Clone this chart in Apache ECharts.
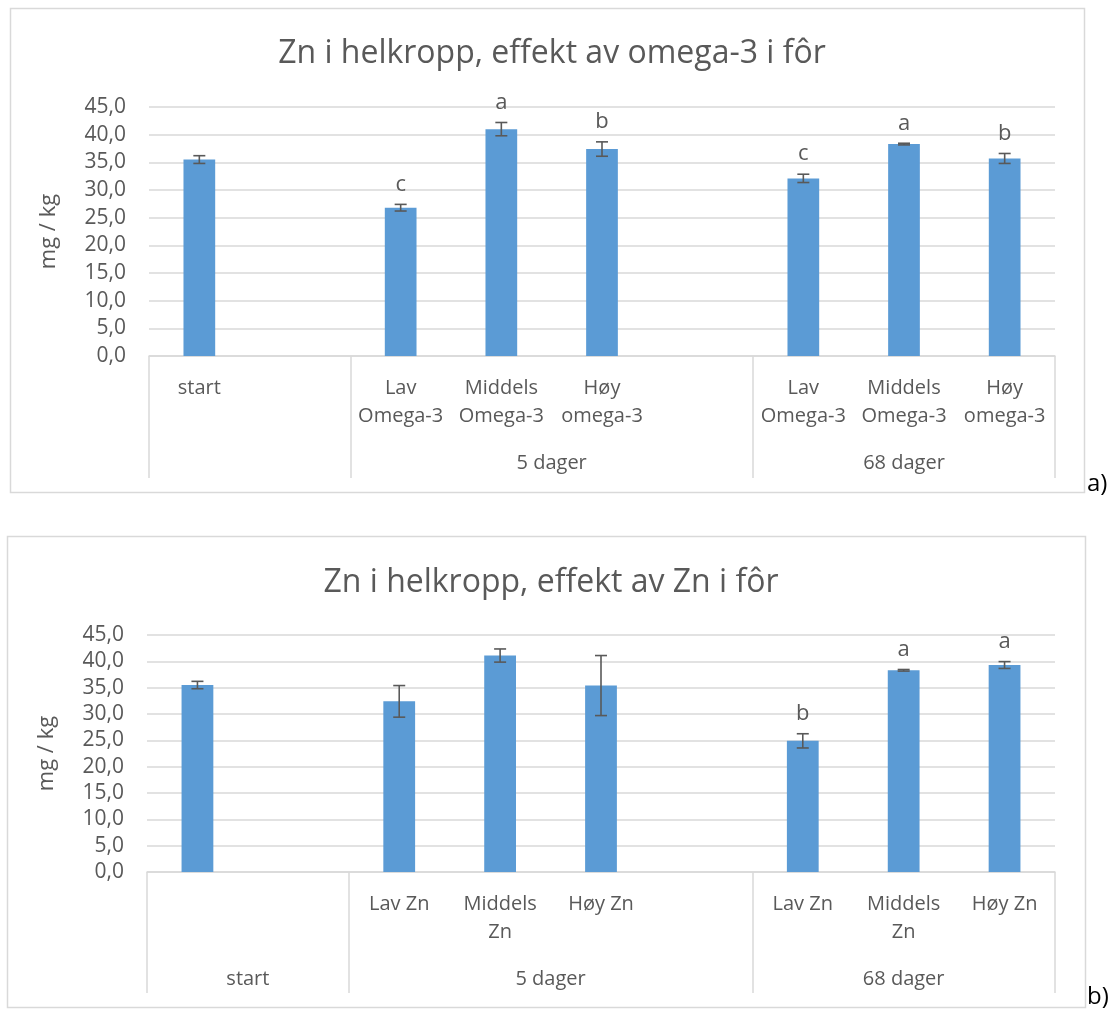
<!DOCTYPE html>
<html>
<head>
<meta charset="utf-8">
<title>Zn i helkropp</title>
<script src="https://cdn.jsdelivr.net/npm/echarts@6/dist/echarts.min.js"></script>
<style>
    html, body { margin: 0; padding: 0; background: #fff; }
    #main { width: 1115px; height: 1012px; }
</style>
</head>
<body>
<div id="main"></div>
<script>
//---数据定义区----------------------------------
var categoriesA = ['start', '', 'Lav\nOmega-3', 'Middels\nOmega-3', 'Høy\nomega-3', '', 'Lav\nOmega-3', 'Middels\nOmega-3', 'Høy\nomega-3'];
var valuesA = [35.5, null, 26.8, 41.0, 37.4, null, 32.1, 38.3, 35.7];
var errorsA = [0.7, null, 0.6, 1.2, 1.3, null, 0.75, 0.15, 0.9];
var lettersA = ['', '', 'c', 'a', 'b', '', 'c', 'a', 'b'];
var groupNamesA = ['5 dager', '68 dager'];
var groupCentersA = [4, 7.5];

var categoriesB = ['', '', 'Lav Zn', 'Middels\nZn', 'Høy Zn', '', 'Lav Zn', 'Middels\nZn', 'Høy Zn'];
var valuesB = [35.5, null, 32.4, 41.1, 35.4, null, 24.9, 38.3, 39.3];
var errorsB = [0.7, null, 3.0, 1.25, 5.7, null, 1.35, 0.15, 0.65];
var lettersB = ['', '', '', '', '', '', 'b', 'a', 'a'];
var groupNamesB = ['start', '5 dager', '68 dager'];
var groupCentersB = [1, 4, 7.5];

var groupEdges = [0, 2, 6, 9];
var yTicks = [0, 5, 10, 15, 20, 25, 30, 35, 40, 45];

//---常量定义区----------------------------------
var FONT = 'Open Sans';
var TEXT = '#595959';
var LINE = '#d9d9d9';
var BAR = '#5B9BD5';

//---工具函数----------------------------------
function errData(values, errors) {
    var out = [];
    for (var i = 0; i < values.length; i++) {
        if (values[i] != null) out.push([i, values[i], errors[i]]);
    }
    return out;
}

function makeErrRender(letters) {
    return function (params, api) {
        var i = api.value(0), v = api.value(1), e = api.value(2);
        var lo = api.coord([i, v - e]);
        var hi = api.coord([i, v + e]);
        var half = 6;
        var st = { stroke: TEXT, lineWidth: 1.6 };
        var kids = [
            { type: 'line', shape: { x1: hi[0], y1: hi[1], x2: lo[0], y2: lo[1] }, style: st },
            { type: 'line', shape: { x1: hi[0] - half, y1: hi[1], x2: hi[0] + half, y2: hi[1] }, style: st },
            { type: 'line', shape: { x1: lo[0] - half, y1: lo[1], x2: lo[0] + half, y2: lo[1] }, style: st }
        ];
        if (letters[i]) {
            kids.push({
                type: 'text',
                style: {
                    text: letters[i], x: hi[0], y: hi[1] - 20,
                    align: 'center', verticalAlign: 'middle',
                    fill: TEXT, font: '22px "' + FONT + '"'
                }
            });
        }
        return { type: 'group', children: kids };
    };
}

function yLabel(v) {
    return v.toFixed(1).replace('.', ',');
}

//---配置生成----------------------------------
function makeYAxis(gridIndex) {
    return {
        type: 'value', gridIndex: gridIndex,
        min: yTicks[0], max: yTicks[yTicks.length - 1], interval: yTicks[1] - yTicks[0],
        name: 'mg / kg', nameLocation: 'middle', nameRotate: 90, nameGap: 89,
        nameTextStyle: { color: TEXT, fontSize: 22, fontFamily: FONT },
        axisLine: { show: false }, axisTick: { show: false },
        axisLabel: { color: TEXT, fontSize: 21, fontFamily: FONT, margin: 23, formatter: yLabel },
        splitLine: { lineStyle: { color: LINE, width: 1.5 } }
    };
}

function makeCatAxis(gridIndex, cats) {
    return {
        type: 'category', gridIndex: gridIndex, data: cats, position: 'bottom',
        axisLine: { lineStyle: { color: LINE, width: 1.5 } },
        axisTick: { show: false },
        axisLabel: { interval: 0, color: TEXT, fontSize: 20, fontFamily: FONT, lineHeight: 28, margin: 18 }
    };
}

function makeGroupAxis(gridIndex, names, centers, tickLen) {
    return {
        type: 'value', gridIndex: gridIndex, position: 'bottom',
        min: groupEdges[0], max: groupEdges[groupEdges.length - 1],
        axisLine: { show: false },
        splitLine: { show: false },
        axisTick: { show: true, customValues: groupEdges, length: tickLen, lineStyle: { color: LINE, width: 1.5 } },
        axisLabel: {
            customValues: centers, color: TEXT, fontSize: 20, fontFamily: FONT, lineHeight: 28, margin: 93,
            formatter: function (v) {
                var k = centers.indexOf(v);
                return k >= 0 ? names[k] : '';
            }
        }
    };
}

var option = {
    backgroundColor: '#fff',
    animation: false,
    title: [
        { text: 'Zn i helkropp, effekt av omega-3 i fôr', left: 547, top: 33, textAlign: 'center',
          textStyle: { color: TEXT, fontSize: 32, fontWeight: 'normal', fontFamily: FONT } },
        { text: 'Zn i helkropp, effekt av Zn i fôr', left: 546, top: 562, textAlign: 'center',
          textStyle: { color: TEXT, fontSize: 32, fontWeight: 'normal', fontFamily: FONT } }
    ],
    graphic: [
        { type: 'rect', shape: { x: 10.5, y: 8.5, width: 1074, height: 484 }, style: { fill: null, stroke: LINE, lineWidth: 1.5 } },
        { type: 'rect', shape: { x: 7.5, y: 536.5, width: 1078, height: 471 }, style: { fill: null, stroke: LINE, lineWidth: 1.5 } },
        { type: 'text', left: 1087, top: 472, style: { text: 'a)', fill: '#000', font: '24px "' + FONT + '"' } },
        { type: 'text', left: 1087, top: 985, style: { text: 'b)', fill: '#000', font: '24px "' + FONT + '"' } }
    ],
    grid: [
        { left: 149, top: 107, width: 906, height: 249 },
        { left: 147, top: 635, width: 908, height: 237 }
    ],
    xAxis: [
        makeCatAxis(0, categoriesA),
        makeGroupAxis(0, groupNamesA, groupCentersA, 122),
        makeCatAxis(1, categoriesB),
        makeGroupAxis(1, groupNamesB, groupCentersB, 121)
    ],
    yAxis: [makeYAxis(0), makeYAxis(1)],
    series: [
        { type: 'bar', xAxisIndex: 0, yAxisIndex: 0, data: valuesA, barWidth: '31.5%', itemStyle: { color: BAR } },
        { type: 'custom', xAxisIndex: 0, yAxisIndex: 0, data: errData(valuesA, errorsA), renderItem: makeErrRender(lettersA), z: 5 },
        { type: 'bar', xAxisIndex: 2, yAxisIndex: 1, data: valuesB, barWidth: '31.5%', itemStyle: { color: BAR } },
        { type: 'custom', xAxisIndex: 2, yAxisIndex: 1, data: errData(valuesB, errorsB), renderItem: makeErrRender(lettersB), z: 5 }
    ]
};

//---初始化----------------------------------
function init() {
    var chart = echarts.init(document.getElementById('main'));
    chart.setOption(option);
}
init();
</script>
</body>
</html>
